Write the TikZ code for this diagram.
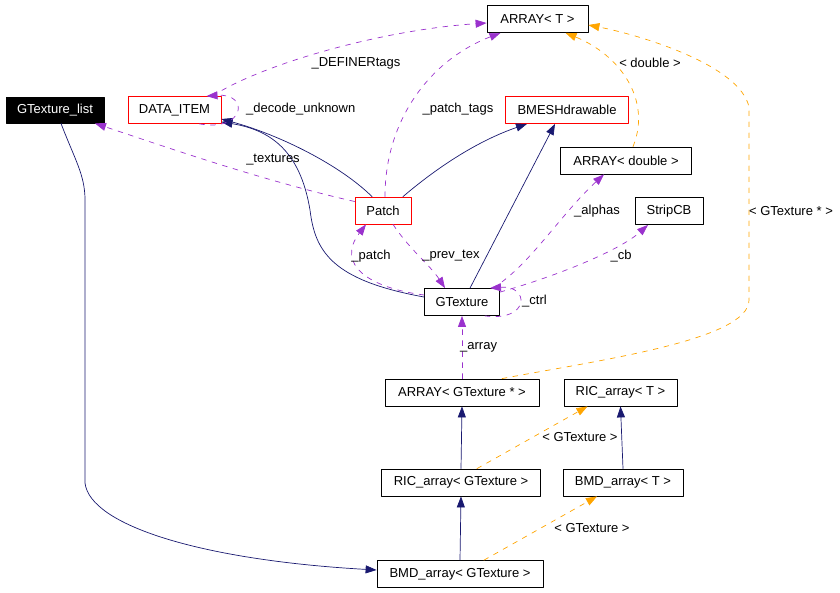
\documentclass[tikz,border=0pt]{standalone}
\usepackage{fontspec}
\setmainfont{Liberation Sans}
\usetikzlibrary{arrows.meta}
\definecolor{navyline}{HTML}{191970}
\definecolor{usecol}{HTML}{9A32CD}
\definecolor{tmplcol}{HTML}{FFA500}
\tikzset{
  box/.style={draw=black,line width=0.8pt,inner sep=0pt,minimum height=27pt,fill=white},
  redbox/.style={box,draw=red},
  inherit/.style={draw=navyline,line width=0.7pt,-{Triangle[length=11pt,width=8pt]}},
  uses/.style={draw=usecol,line width=0.7pt,dash pattern=on 5pt off 6pt,-{Triangle[length=11pt,width=8pt,fill=usecol]}},
  tmpl/.style={draw=tmplcol,line width=0.7pt,dash pattern=on 5pt off 6pt,-{Triangle[length=11pt,width=8pt,fill=tmplcol]}},
  lbl/.style={inner sep=0pt}
}
\begin{document}
\begin{tikzpicture}[x=1pt,y=-1pt,line cap=round,line join=round,font=\fontsize{13}{15}\selectfont]
        \useasboundingbox (0,0) rectangle (840,592);

        \node[box,fill=black,text=white,minimum width=98pt,minimum height=26pt] (glist) at (55,110) {GTexture\_list};
        \node[redbox,minimum width=93pt] (dataitem) at (174.5,110) {DATA\_ITEM};
        \node[box,minimum width=101pt] (arrayT) at (537.5,19) {ARRAY< T >};
        \node[redbox,minimum width=123pt] (bmesh) at (567,110) {BMESHdrawable};
        \node[box,minimum width=131pt] (arraydbl) at (626,160.5) {ARRAY< double >};
        \node[redbox,minimum width=56pt] (patch) at (383,210.5) {Patch};
        \node[box,minimum width=68pt] (stripcb) at (669,211) {StripCB};
        \node[box,minimum width=75pt] (gtex) at (462,302) {GTexture};
        \node[box,minimum width=154pt] (arraygt) at (462,392.5) {ARRAY< GTexture * >};
        \node[box,minimum width=113pt] (ricT) at (620.5,392.5) {RIC\_array< T >};
        \node[box,minimum width=159pt] (ricgt) at (461,482.5) {RIC\_array< GTexture >};
        \node[box,minimum width=120pt] (bmdT) at (623,482.5) {BMD\_array< T >};
        \node[box,minimum width=166pt] (bmdgt) at (460,574) {BMD\_array< GTexture >};

        % inheritance / containment (solid)
        \draw[inherit] ([xshift=6pt]glist.south) .. controls (75,160) and (85,175) .. (85,200)
              -- (85,483) .. controls (90,525) and (200,560) .. ([yshift=4pt]bmdgt.west);
        \draw[inherit] ([xshift=-11pt]patch.north) .. controls (340,165) and (280,135) .. ([yshift=-9pt]dataitem.east);
        \draw[inherit] ([yshift=5pt]gtex.west) .. controls (330,280) and (315,250) .. (310,210)
              .. controls (300,150) and (270,130) .. ([yshift=2pt]dataitem.south east);
        \draw[inherit] ([xshift=20pt]patch.north) .. controls (440,165) and (480,140) .. ([xshift=-40pt]bmesh.south);
        \draw[inherit] ([xshift=8pt]gtex.north) -- ([xshift=-12pt]bmesh.south);
        \draw[inherit] (ricgt.north) -- (arraygt.south);
        \draw[inherit] (bmdT.north) -- (ricT.south);
        \draw[inherit] (bmdgt.north) -- (ricgt.south);

        % usage (dashed)
        \draw[uses] ([yshift=9pt]patch.west) .. controls (260,180) and (160,145) .. ([xshift=40pt]glist.south);
        \draw[uses] ([xshift=38pt]dataitem.north) .. controls (260,65) and (380,30) .. ([yshift=-4pt]arrayT.west);
        \draw[uses] ([xshift=25pt]dataitem.south) .. controls (245,132) and (250,93) .. ([xshift=32pt]dataitem.north);
        \draw[uses] ([xshift=2pt]patch.north) .. controls (385,120) and (430,60) .. ([xshift=-37pt]arrayT.south);
        \draw[uses] ([xshift=31pt]gtex.north) .. controls (530,265) and (560,215) .. ([xshift=-22pt]arraydbl.south);
        \draw[uses] ([yshift=-4pt]gtex.north east) .. controls (560,275) and (620,250) .. ([xshift=-21pt]stripcb.south);
        \draw[uses] ([xshift=23pt]gtex.south) .. controls (530,322) and (530,285) .. ([xshift=28pt]gtex.north);
        \draw[uses] ([yshift=7pt]gtex.west) .. controls (370,288) and (335,265) .. ([xshift=-17pt]patch.south);
        \draw[uses] ([xshift=10pt]patch.south) .. controls (410,250) and (430,265) .. ([xshift=-17pt]gtex.north);
        \draw[uses] (arraygt.north) -- (gtex.south);

        % template instances (dashed)
        \draw[tmpl] ([xshift=7pt]arraydbl.north) .. controls (652,100) and (620,55) .. ([xshift=28pt]arrayT.south);
        \draw[tmpl] ([xshift=40pt]arraygt.north) .. controls (600,360) and (749,340) .. (749,300)
              -- (749,107) .. controls (740,65) and (640,35) .. ([yshift=-6pt]arrayT.east);
        \draw[tmpl] ([xshift=16pt]ricgt.north) -- ([xshift=-33pt]ricT.south);
        \draw[tmpl] ([xshift=24pt]bmdgt.north) -- ([xshift=-26pt]bmdT.south);

        \node[lbl] (l_definer) at (356,63) {\_DEFINERtags};
        \node[lbl,anchor=west] (l_decode) at (246,109) {\_decode\_unknown};
        \node[lbl] (l_textures) at (273,160) {\_textures};
        \node[lbl] (l_patchtags) at (458,109) {\_patch\_tags};
        \node[lbl] (l_double) at (650,63) {< double >};
        \node[lbl] (l_gtexptr) at (791,211) {< GTexture * >};
        \node[lbl] (l_alphas) at (597,211) {\_alphas};
        \node[lbl] (l_cb) at (621,256) {\_cb};
        \node[lbl,anchor=west] (l_ctrl) at (522,301) {\_ctrl};
        \node[lbl] (l_patch) at (371,256) {\_patch};
        \node[lbl] (l_prevtex) at (451,256) {\_prev\_tex};
        \node[lbl,anchor=west] (l_array) at (460,347) {\_array};
        \node[lbl] (l_ric) at (580,437) {< GTexture >};
        \node[lbl] (l_bmd) at (592,528) {< GTexture >};
      \end{tikzpicture}
\end{document}
